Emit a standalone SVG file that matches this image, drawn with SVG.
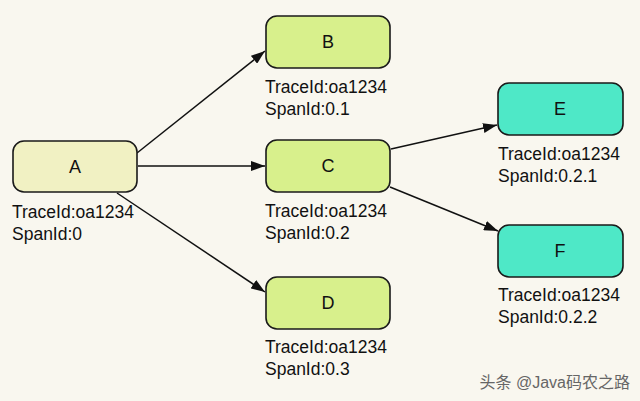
<svg xmlns="http://www.w3.org/2000/svg" width="640" height="401" viewBox="0 0 640 401">
<style>
.box{stroke:#1a1a1a;stroke-width:1.6}
.a{fill:#f1f1c3}
.g{fill:#d8f08c}
.t{fill:#4ee8c7}
.name{font-family:"Liberation Sans",Arial,sans-serif;font-size:18px;fill:#111;text-anchor:middle}
.lbl{font-family:"Liberation Sans",Arial,sans-serif;font-size:17.5px;fill:#111}
.edge{stroke:#111;stroke-width:1.5;fill:none;marker-end:url(#arr)}
.wm{font-family:"Liberation Sans","Noto Sans CJK SC",sans-serif;font-size:16px;fill:#666;text-anchor:end}
</style>
<defs>
<marker id="arr" viewBox="0 0 14 10" refX="14" refY="5" markerWidth="14" markerHeight="10" markerUnits="userSpaceOnUse" orient="auto">
<path d="M0,0 L14,5 L0,10 z" fill="#111"/>
</marker>
</defs>
<rect width="640" height="401" fill="#f9f7ef"/>
<g id="connectors">
<line class="edge" x1="137" y1="153" x2="265" y2="51"/>
<line class="edge" x1="138" y1="166" x2="265" y2="166"/>
<line class="edge" x1="117" y1="193" x2="265" y2="292"/>
<line class="edge" x1="391" y1="149" x2="497" y2="125"/>
<line class="edge" x1="390" y1="187" x2="498" y2="231"/>
</g>
<g id="A">
<rect class="box a" x="13" y="141" width="124" height="51" rx="11"/>
<text class="name" x="75" y="173">A</text>
<text class="lbl" x="12" y="218">TraceId:oa1234</text>
<text class="lbl" x="12" y="240">SpanId:0</text>
</g>
<g id="B">
<rect class="box g" x="266" y="16" width="124" height="52" rx="11"/>
<text class="name" x="328" y="48">B</text>
<text class="lbl" x="265" y="93">TraceId:oa1234</text>
<text class="lbl" x="265" y="115">SpanId:0.1</text>
</g>
<g id="C">
<rect class="box g" x="266" y="140" width="124" height="52" rx="11"/>
<text class="name" x="328" y="172">C</text>
<text class="lbl" x="265" y="217">TraceId:oa1234</text>
<text class="lbl" x="265" y="239">SpanId:0.2</text>
</g>
<g id="D">
<rect class="box g" x="266" y="277" width="124" height="52" rx="11"/>
<text class="name" x="328" y="309">D</text>
<text class="lbl" x="265" y="353">TraceId:oa1234</text>
<text class="lbl" x="265" y="375">SpanId:0.3</text>
</g>
<g id="E">
<rect class="box t" x="498" y="83" width="125" height="52" rx="11"/>
<text class="name" x="560" y="115">E</text>
<text class="lbl" x="498" y="160">TraceId:oa1234</text>
<text class="lbl" x="498" y="182">SpanId:0.2.1</text>
</g>
<g id="F">
<rect class="box t" x="498" y="225" width="125" height="52" rx="11"/>
<text class="name" x="560" y="257">F</text>
<text class="lbl" x="498" y="301">TraceId:oa1234</text>
<text class="lbl" x="498" y="323">SpanId:0.2.2</text>
</g>
<text class="wm" x="630" y="388">头条 @Java码农之路</text>
</svg>
